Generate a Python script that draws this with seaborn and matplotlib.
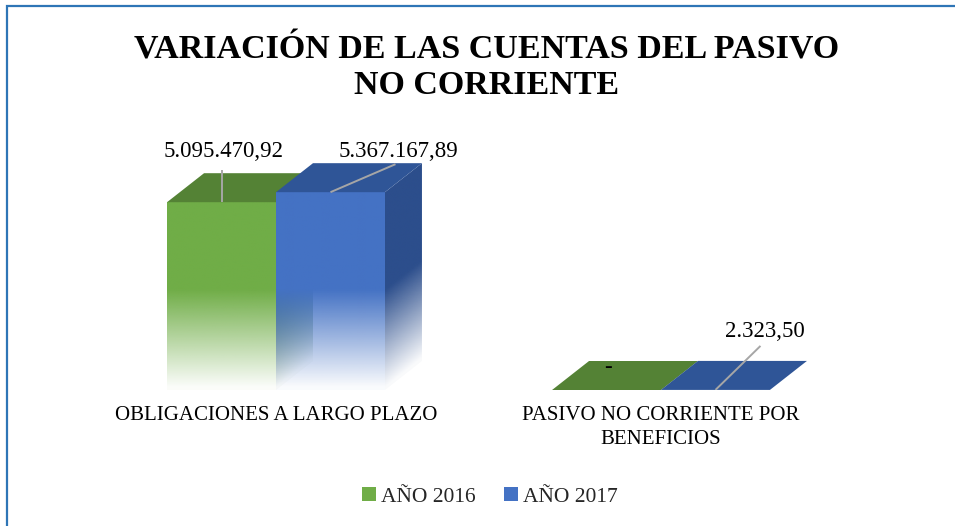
import numpy as np
import pandas as pd
import matplotlib
matplotlib.use("Agg")
import matplotlib.pyplot as plt
from matplotlib.patches import Polygon, Rectangle, Patch
from matplotlib.colors import to_rgb
import seaborn as sns

# ---- datos ----
cuentas = ["OBLIGACIONES A LARGO PLAZO", "PASIVO NO CORRIENTE POR\nBENEFICIOS"]
anios = ["AÑO 2016", "AÑO 2017"]
valores_2016 = [5095470.92, 0.0]
valores_2017 = [5367167.89, 2323.50]
etiquetas_2016 = ["5.095.470,92", "-"]
etiquetas_2017 = ["5.367.167,89", "2.323,50"]

# ---- estilo ----
colores_frente = ["#70AD47", "#4472C4"]
colores_tapa = ["#548235", "#2F5597"]
colores_lado = ["#4A742F", "#2C4E8C"]
color_guia = "#A6A6A6"

sns.set_theme(style="white")
plt.rcParams["font.family"] = ["Liberation Serif", "DejaVu Serif"]

df = pd.DataFrame({
    "cuenta": cuentas * 2,
    "anio": [anios[0]] * len(cuentas) + [anios[1]] * len(cuentas),
    "valor": valores_2016 + valores_2017,
})

W, H = 955, 526
fig = plt.figure(figsize=(W / 100, H / 100), dpi=100)
ax = fig.add_axes([83.5 / W, (H - 390) / H, 770 / W, 258 / H])

sns.barplot(data=df, x="cuenta", y="valor", hue="anio", order=cuentas,
            hue_order=anios, palette=colores_frente, width=0.566,
            errorbar=None, saturation=1, legend=False, ax=ax)
ax.set_xlim(-0.5, 1.5)
ax.set_ylim(0, 7.0e6)

# profundidad de la caja 3D, expresada en unidades de datos
inv = ax.transData.inverted()
ox, oy = inv.transform((0, 0))
px, py = inv.transform((37, 29))
ddx, ddy = px - ox, py - oy
sx, sy = ddx / 37, ddy / 29          # unidades de datos por pixel
fade = 100 * sy                      # altura del degradado hacia blanco


def cara_degradada(verts, color, base, zorder):
    """Rellena un polígono con un color que se desvanece hacia abajo."""
    verts = np.asarray(verts)
    xmin, ymin = verts.min(0)
    xmax, ymax = verts.max(0)
    xs = np.linspace(xmin, xmax, 80)
    ys = np.linspace(ymax, ymin, 400)
    X, Y = np.meshgrid(xs, ys)
    alpha = np.clip((Y - base(X)) / fade, 0.03, 1.0)
    img = np.zeros((len(ys), len(xs), 4))
    img[..., :3] = to_rgb(color)
    img[..., 3] = alpha
    im = ax.imshow(img, extent=(xmin, xmax, ymin, ymax), aspect="auto",
                   origin="upper", interpolation="bilinear", zorder=zorder)
    clip = Polygon(verts, closed=True, transform=ax.transData,
                   facecolor="none", edgecolor="none")
    ax.add_patch(clip)
    im.set_clip_path(clip)


for h_idx, cont in enumerate(ax.containers):
    for bar in cont:
        x0 = bar.get_x()
        w = bar.get_width()
        h = bar.get_height()
        x1 = x0 + w
        z = 2 + 2 * h_idx
        bar.set_facecolor("none")
        bar.set_edgecolor("none")
        # cara lateral derecha
        lado = [(x1, 0), (x1 + ddx, ddy), (x1 + ddx, h + ddy), (x1, h)]
        cara_degradada(lado, colores_lado[h_idx],
                       lambda X, x1=x1: (X - x1) / ddx * ddy, z)
        # cara frontal
        if h > 0:
            frente = [(x0, 0), (x1, 0), (x1, h), (x0, h)]
            cara_degradada(frente, colores_frente[h_idx],
                           lambda X: np.zeros_like(X), z + 1)
        # tapa superior
        tapa = [(x0, h), (x1, h), (x1 + ddx, h + ddy), (x0 + ddx, h + ddy)]
        ax.add_patch(Polygon(tapa, closed=True, facecolor=colores_tapa[h_idx],
                             edgecolor="none", zorder=z + 1))

# etiquetas de valor con líneas guía (desplazamientos en pixeles)
desp_texto = {(0, 0): (2, 45), (0, 1): (68, 35), (1, 0): (1, 17), (1, 1): (49, 53)}
desp_guia = {(0, 0): (0, 32), (0, 1): (65, 28), (1, 1): (45, 44)}
etiquetas = [etiquetas_2016, etiquetas_2017]
for h_idx, cont in enumerate(ax.containers):
    for c_idx, bar in enumerate(cont):
        cx = bar.get_x() + bar.get_width() / 2
        cy = bar.get_height()
        if (c_idx, h_idx) in desp_guia:
            gx, gy = desp_guia[(c_idx, h_idx)]
            ax.plot([cx, cx + gx * sx], [cy, cy + gy * sy], color=color_guia,
                    lw=1.4, zorder=10, solid_capstyle="butt")
        tx, ty = desp_texto[(c_idx, h_idx)]
        ax.text(cx + tx * sx, cy + ty * sy, etiquetas[h_idx][c_idx],
                ha="center", va="baseline", fontsize=16.5, color="black",
                zorder=11)

ax.set_yticks([])
ax.set_xlabel("")
ax.set_ylabel("")
ax.tick_params(axis="x", length=0, pad=11.5)
for lbl in ax.get_xticklabels():
    lbl.set_fontsize(15)
    lbl.set_color("black")
    lbl.set_multialignment("center")
    lbl.set_linespacing(1.35)
sns.despine(ax=ax, left=True, bottom=True)

fig.text(486.5 / W, 1 - 68 / H, "VARIACIÓN DE LAS CUENTAS DEL PASIVO\nNO CORRIENTE",
         ha="center", va="center", fontsize=24.5, fontweight="bold",
         family="Liberation Serif", linespacing=1.2, color="black")

handles = [Patch(facecolor=c, edgecolor="none") for c in colores_frente]
fig.legend(handles, anios, loc="center", bbox_to_anchor=(490 / W, 1 - 497 / H),
           ncol=2, frameon=False, fontsize=15.5, handlelength=0.65,
           handleheight=0.65, handletextpad=0.25, columnspacing=1.3)

fig.add_artist(Rectangle((7 / W, -0.1), 1.2, 1 - 6 / H + 0.1,
                         transform=fig.transFigure, fill=False,
                         edgecolor="#2E75B6", lw=1.6))

fig.savefig("out.png", dpi=100, facecolor="white")
